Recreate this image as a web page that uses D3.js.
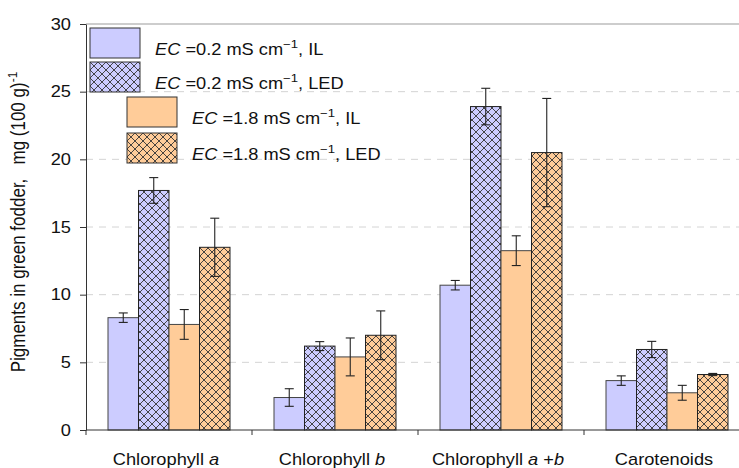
<!DOCTYPE html>
<html>
<head>
<meta charset="utf-8">
<script src="https://cdn.jsdelivr.net/npm/d3@7"></script>
<style>
  body { margin: 0; background: #fff; }
  svg { display: block; font-family: "Liberation Sans", Arial, sans-serif; }
</style>
</head>
<body>
<div id="chart"></div>
<script>
const wh = 739,
    ht = 468;

// categories and series
const categories = ["Chlorophyll a", "Chlorophyll b", "Chlorophyll a+b", "Carotenoids"];
// label pieces: [text, italic]
const catLabels = [
    [["Chlorophyll ", false], ["a", true]],
    [["Chlorophyll ", false], ["b", true]],
    [["Chlorophyll ", false], ["a", true], [" +", false], ["b", true]],
    [["Carotenoids", false]]
];
const seriesNames = ["ec02IL", "ec02LED", "ec18IL", "ec18LED"];
const seriesEC = ["0.2", "0.2", "1.8", "1.8"];
const seriesLight = ["IL", "LED", "IL", "LED"];

const ec02IL = [8.3, 2.4, 10.7, 3.65];
const ec02LED = [17.7, 6.2, 23.9, 5.95];
const ec18IL = [7.8, 5.4, 13.25, 2.75];
const ec18LED = [13.5, 7.0, 20.5, 4.1];

const ec02ILerr = [0.35, 0.65, 0.35, 0.35];
const ec02LEDerr = [0.95, 0.33, 1.35, 0.6];
const ec18ILerr = [1.1, 1.4, 1.1, 0.55];
const ec18LEDerr = [2.15, 1.8, 4.0, 0.08];

const yTicks = [0, 5, 10, 15, 20, 25, 30];

const values = [ec02IL, ec02LED, ec18IL, ec18LED];
const errs = [ec02ILerr, ec02LEDerr, ec18ILerr, ec18LEDerr];

const data = [];
categories.forEach(function(c, i) {
    seriesNames.forEach(function(s, j) {
        data.push({cat: c, ser: s, j: j, value: values[j][i], err: errs[j][i]});
    });
});

const blue = "#ccccff",
    orange = "#ffcc99",
    sx = 1.14; // text looks a bit wide in the original

const svg = d3.select("#chart")
    .append("svg")
    .attr("width", wh)
    .attr("height", ht);

// hatch patterns
const defs = svg.append("defs");
[["hatchBlue", blue], ["hatchOrange", orange]].forEach(function(p) {
    const pat = defs.append("pattern")
        .attr("id", p[0])
        .attr("patternUnits", "userSpaceOnUse")
        .attr("width", 8)
        .attr("height", 8);
    pat.append("rect").attr("width", 8).attr("height", 8).attr("fill", p[1]);
    pat.append("path")
        .attr("d", "M0,0L8,8M8,0L0,8")
        .attr("stroke", "#333")
        .attr("stroke-width", 0.9);
});

function fillFor(j) {
    if (j == 0) return blue;
    if (j == 1) return "url(#hatchBlue)";
    if (j == 2) return orange;
    return "url(#hatchOrange)";
}

const x = d3.scaleBand()
    .domain(categories)
    .range([86, 86 + 166 * 4]);

const xs = d3.scaleBand()
    .domain(seriesNames)
    .range([22, 144]);

const y = d3.scaleLinear()
    .domain([0, 30])
    .range([430, 24]);

// grid
svg.append("g")
    .selectAll("line")
    .data(yTicks.filter(function(t) { return t > 0; }))
    .enter()
    .append("line")
    .attr("x1", 86)
    .attr("x2", wh)
    .attr("y1", function(d) { return y(d); })
    .attr("y2", function(d) { return y(d); })
    .attr("stroke", function(d) { return d == 30 ? "#bdbdbd" : "#d4d4d4"; })
    .attr("stroke-width", function(d) { return d == 30 ? 1.3 : 1; })
    .attr("stroke-dasharray", function(d) { return d == 30 ? null : "7,6"; });

// bars
svg.append("g")
    .selectAll("rect")
    .data(data)
    .enter()
    .append("rect")
    .attr("x", function(d) { return x(d.cat) + xs(d.ser); })
    .attr("width", xs.bandwidth())
    .attr("y", function(d) { return y(d.value); })
    .attr("height", function(d) { return y(0) - y(d.value); })
    .attr("fill", function(d) { return fillFor(d.j); })
    .attr("stroke", function(d) { return d.j % 2 ? "#222" : "#444"; })
    .attr("stroke-width", 1);

// error bars
const eb = svg.append("g")
    .attr("stroke", "#222")
    .attr("stroke-width", 1.1)
    .selectAll("g")
    .data(data)
    .enter()
    .append("g")
    .attr("transform", function(d) {
        return "translate(" + (x(d.cat) + xs(d.ser) + xs.bandwidth() / 2) + ",0)";
    });
eb.append("line")
    .attr("y1", function(d) { return y(d.value + d.err); })
    .attr("y2", function(d) { return y(d.value - d.err); });
eb.append("line")
    .attr("x1", -4.5).attr("x2", 4.5)
    .attr("y1", function(d) { return y(d.value + d.err); })
    .attr("y2", function(d) { return y(d.value + d.err); });
eb.append("line")
    .attr("x1", -4.5).attr("x2", 4.5)
    .attr("y1", function(d) { return y(d.value - d.err); })
    .attr("y2", function(d) { return y(d.value - d.err); });

// y axis
const leftAxis = d3.axisLeft(y).tickValues(yTicks).tickSize(6).tickSizeOuter(0);
const ya = svg.append("g")
    .attr("class", "y-axis")
    .attr("transform", "translate(86,0)")
    .call(leftAxis);
ya.select(".domain").attr("stroke", "#333");
ya.selectAll(".tick line").attr("stroke", "#333");
ya.selectAll(".tick text")
    .attr("x", 0)
    .attr("transform", "translate(-15,0) scale(" + sx + ",1)")
    .attr("font-size", 16)
    .attr("font-family", "Liberation Sans, Arial, sans-serif")
    .attr("fill", "#111");

// x axis line + boundary ticks
svg.append("line")
    .attr("x1", 86).attr("x2", wh)
    .attr("y1", y(0)).attr("y2", y(0))
    .attr("stroke", "#333");
svg.append("g")
    .selectAll("line")
    .data(categories)
    .enter()
    .append("line")
    .attr("x1", function(d) { return x(d); })
    .attr("x2", function(d) { return x(d); })
    .attr("y1", y(0))
    .attr("y2", y(0) + 5)
    .attr("stroke", "#333");

// category labels
svg.append("g")
    .selectAll("text")
    .data(categories)
    .enter()
    .append("text")
    .attr("transform", function(d) {
        return "translate(" + (x(d) + x.bandwidth() / 2 - 3) + ",465) scale(" + sx + ",1)";
    })
    .attr("text-anchor", "middle")
    .attr("font-size", 16)
    .attr("fill", "#111")
    .each(function(d, i) {
        const t = d3.select(this);
        catLabels[i].forEach(function(p) {
            t.append("tspan")
                .attr("font-style", p[1] ? "italic" : "normal")
                .text(p[0]);
        });
    });

// y title
const yt = svg.append("text")
    .attr("transform", "translate(25,222) scale(" + sx + ",1) rotate(-90)")
    .attr("text-anchor", "middle")
    .attr("font-size", 17)
    .attr("fill", "#111")
    .attr("xml:space", "preserve")
    .style("white-space", "pre");
yt.append("tspan").text("Pigments in green fodder,   mg (100 g)");
yt.append("tspan").attr("font-size", 12).attr("dy", -7).text("-1");

// legend
const legX = [90, 90, 127, 127],
    legY = [28, 62, 97, 133];
const leg = svg.append("g")
    .selectAll("g")
    .data(seriesNames)
    .enter()
    .append("g")
    .attr("transform", function(d, i) { return "translate(" + legX[i] + "," + legY[i] + ")"; });
leg.append("rect")
    .attr("width", 50)
    .attr("height", 30)
    .attr("fill", function(d, i) { return fillFor(i); })
    .attr("stroke", "#333");
const lt = leg.append("text")
    .attr("transform", "translate(65,27) scale(" + sx + ",1)")
    .attr("font-size", 16)
    .attr("fill", "#111");
lt.append("tspan").attr("font-style", "italic").text("EC");
lt.append("tspan").text(function(d, i) { return " =" + seriesEC[i] + " mS cm"; });
lt.append("tspan").attr("font-size", 11.5).attr("dy", -7).text("\u22121");
lt.append("tspan").attr("dy", 7).text(function(d, i) { return ", " + seriesLight[i]; });
</script>
</body>
</html>
